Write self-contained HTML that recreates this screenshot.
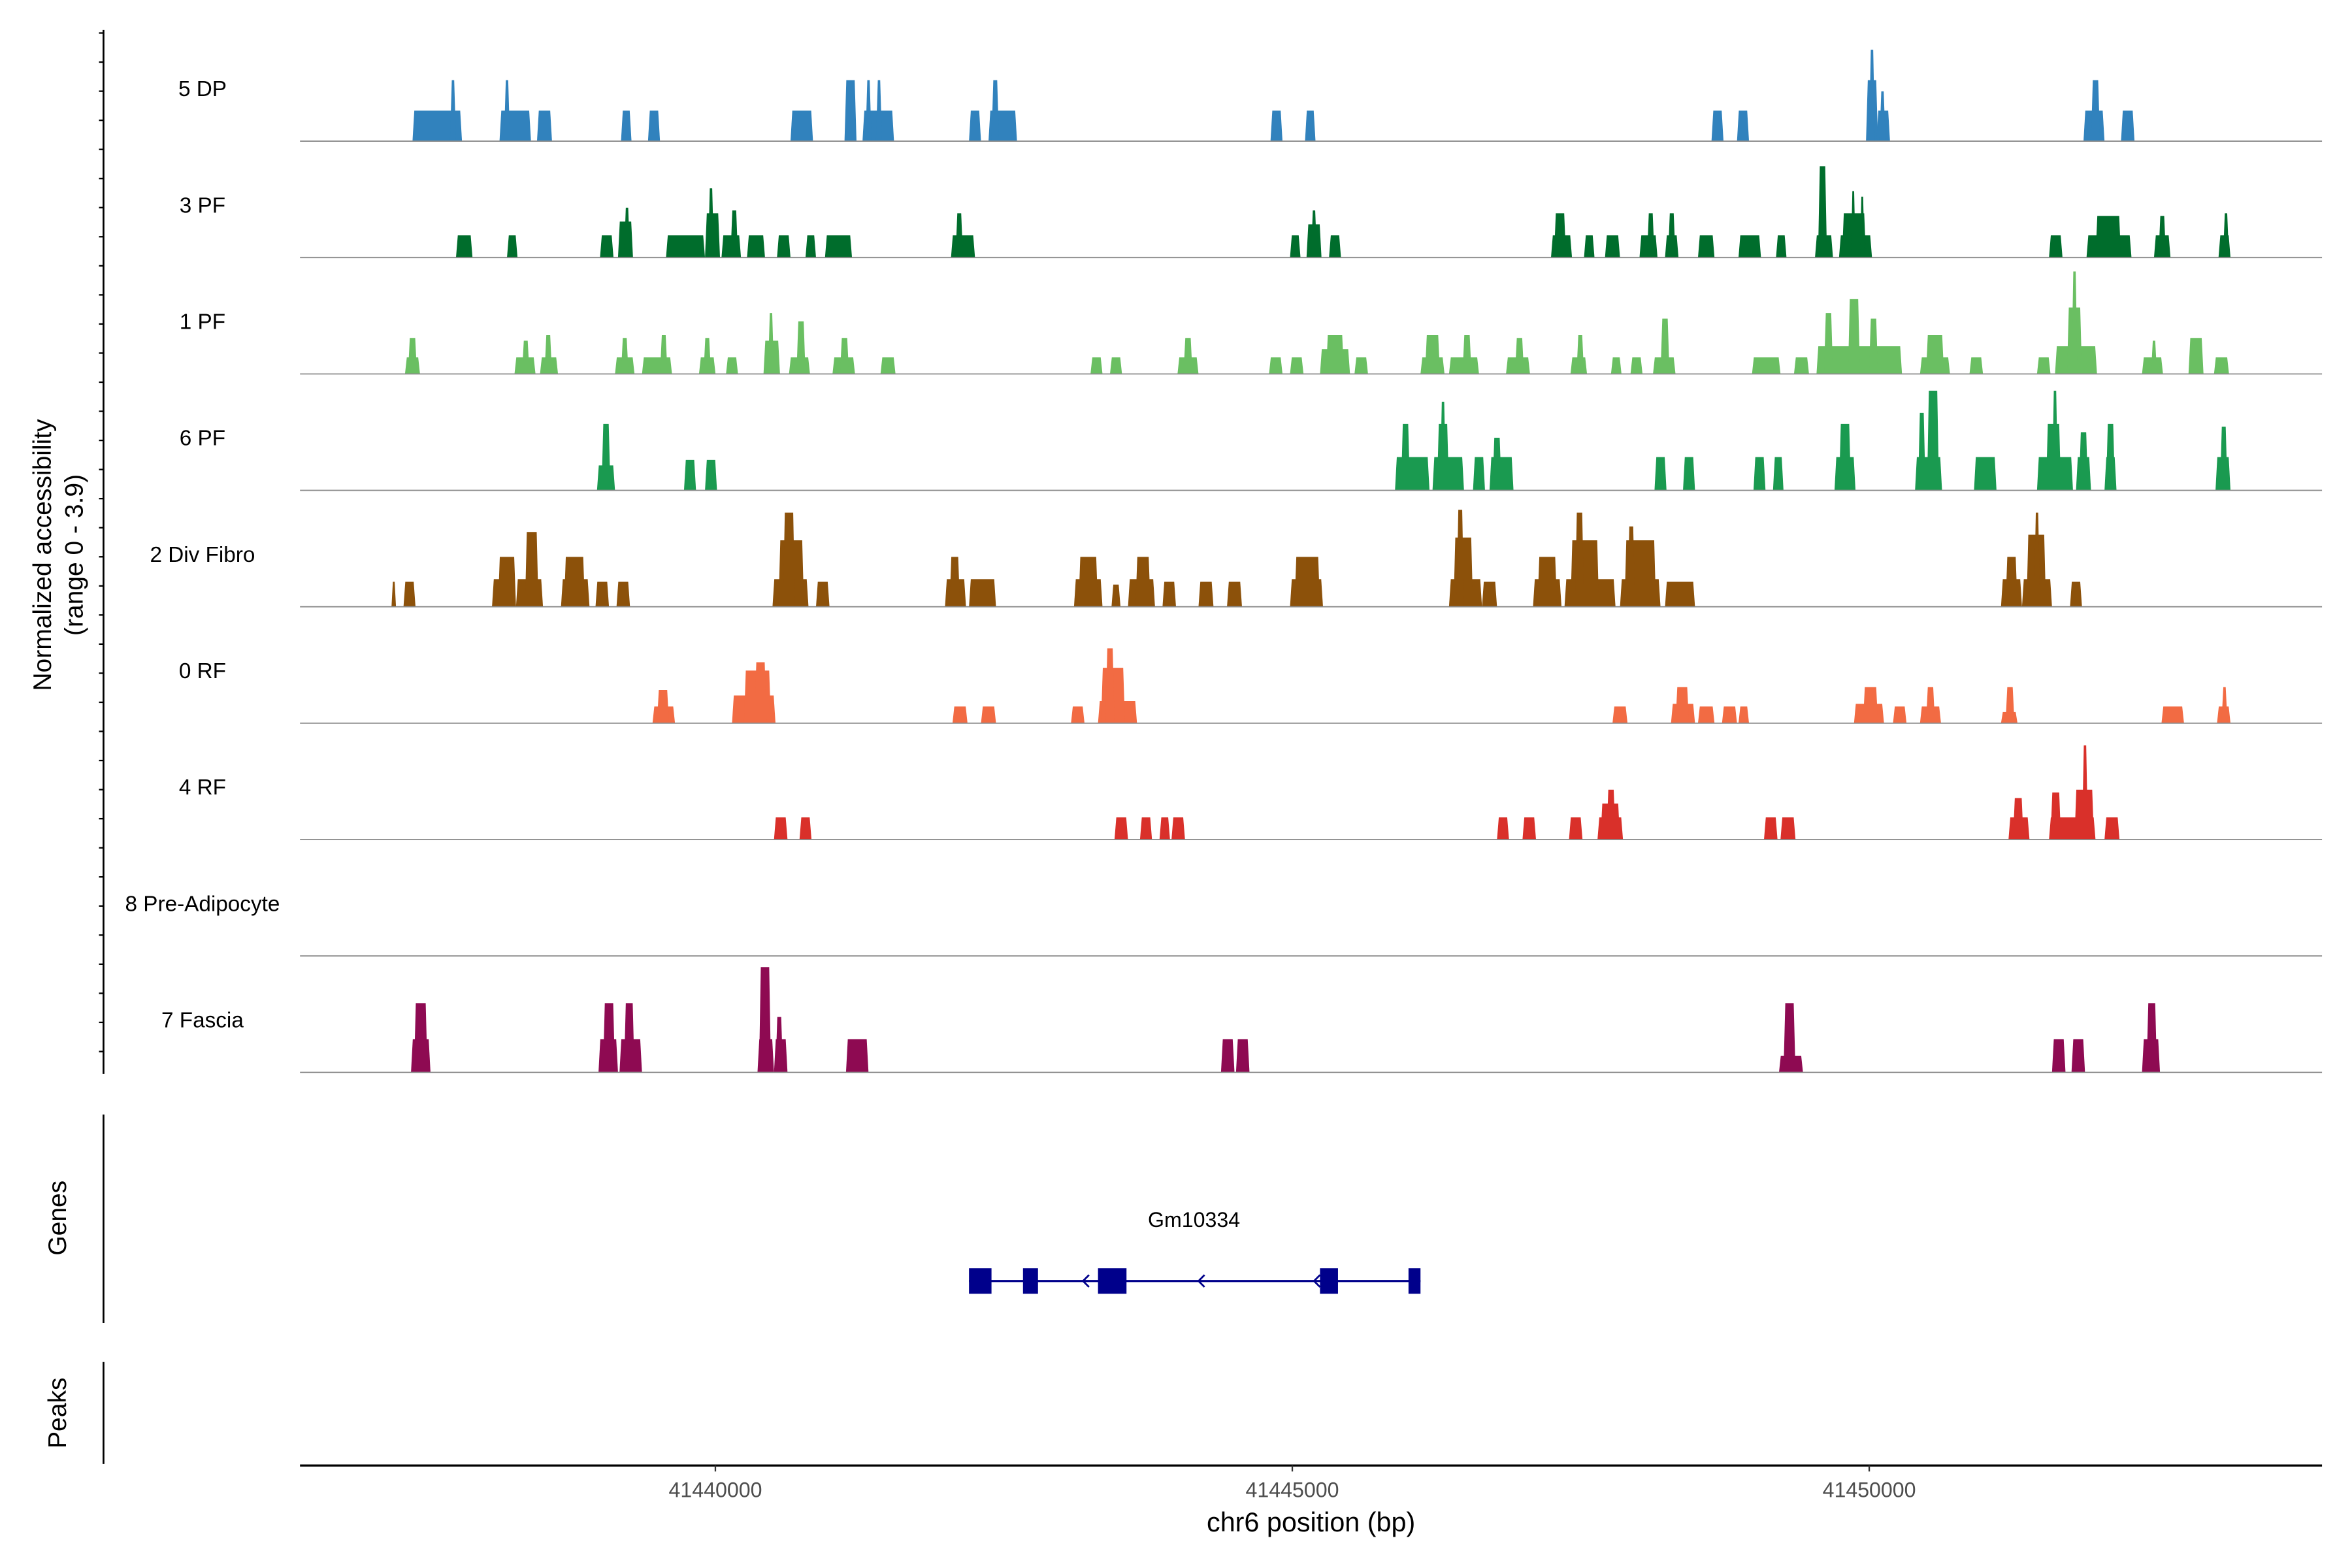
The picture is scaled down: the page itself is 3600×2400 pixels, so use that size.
<!DOCTYPE html>
<html><head><meta charset="utf-8"><style>
html,body{margin:0;padding:0;background:#fff;}
svg{display:block;font-family:"Liberation Sans",Arial,sans-serif;}
</style></head><body>
<svg id="chart" width="3600" height="2400" viewBox="0 0 1568 1045.33" xmlns="http://www.w3.org/2000/svg">
<g id="tracks"></g>
<g id="axes"></g>
</svg>
<script>
// region start (bp) and span
const regionStart = 41436400;
const regionEnd = 41453924;
const xTicks = [41440000, 41445000, 41450000];
const xTickLabels = ["41440000", "41445000", "41450000"];
const trackNames = ["5 DP","3 PF","1 PF","6 PF","2 Div Fibro","0 RF","4 RF","8 Pre-Adipocyte","7 Fascia"];
const trackColors = ["#3182bd","#006d2c","#6abf62","#1a9a50","#8c510a","#f26b43","#d9302a","#666666","#8e0a52"];
const yMax = 3.9;
// peaks: [startOffsetBp, endOffsetBp, accessibility]
const dp5 = [[975,1404,1.1],[1300,1352,2.2],[1729,2002,1.1],[1768,1820,2.2],[2054,2184,1.1],[2782,2873,1.1],[3016,3120,1.1],[4251,4446,1.1],[4719,4823,2.2],[4875,5148,1.1],[4901,4953,2.2],[4992,5044,2.2],[5798,5902,1.1],[5967,6214,1.1],[5993,6058,2.2],[8411,8515,1.1],[8710,8801,1.1],[12233,12337,1.1],[12454,12558,1.1],[13572,13676,2.2],[13598,13650,3.3],[13663,13780,1.1],[13689,13741,1.8],[15457,15639,1.1],[15522,15600,2.2],[15782,15899,1.1]];
const pf3 = [[1352,1495,0.8],[1794,1885,0.8],[2600,2717,0.8],[2756,2886,1.3],[2808,2860,1.8],[3172,3510,0.8],[3510,3640,1.6],[3536,3588,2.5],[3653,3822,0.8],[3731,3796,1.7],[3874,4030,0.8],[4134,4251,0.8],[4381,4472,0.8],[4550,4784,0.8],[5642,5850,0.8],[5681,5746,1.6],[8580,8671,0.8],[8723,8853,1.2],[8762,8814,1.7],[8918,9022,0.8],[10842,11024,0.8],[10868,10972,1.6],[11128,11219,0.8],[11310,11440,0.8],[11609,11765,0.8],[11674,11739,1.6],[11830,11947,0.8],[11856,11921,1.6],[12116,12259,0.8],[12467,12662,0.8],[12792,12883,0.8],[13130,13286,0.8],[13156,13234,3.3],[13338,13624,0.8],[13364,13572,1.6],[13442,13481,2.4],[13520,13559,2.2],[15158,15275,0.8],[15483,15873,0.8],[15561,15782,1.5],[16068,16211,0.8],[16107,16172,1.5],[16627,16731,0.8],[16666,16718,1.6]];
const pf1 = [[910,1040,0.6],[936,1014,1.3],[1859,2041,0.6],[1924,1989,1.2],[2080,2236,0.6],[2119,2184,1.4],[2730,2899,0.6],[2782,2847,1.3],[2964,3224,0.6],[3120,3185,1.4],[3458,3601,0.6],[3497,3562,1.3],[3692,3796,0.6],[4017,4160,1.2],[4056,4108,2.2],[4238,4420,0.6],[4303,4381,1.9],[4615,4810,0.6],[4680,4758,1.3],[5031,5161,0.6],[6851,6955,0.6],[7020,7124,0.6],[7605,7787,0.6],[7657,7735,1.3],[8398,8515,0.6],[8580,8697,0.6],[8840,9100,0.9],[8892,9048,1.4],[9139,9256,0.6],[9711,9919,0.6],[9750,9880,1.4],[9958,10218,0.6],[10075,10153,1.4],[10452,10660,0.6],[10530,10608,1.3],[11011,11154,0.6],[11063,11128,1.4],[11362,11453,0.6],[11531,11635,0.6],[11726,11921,0.6],[11791,11869,2.0],[12584,12831,0.6],[12948,13078,0.6],[13143,13884,1.0],[13208,13286,2.2],[13416,13520,2.7],[13598,13676,2.0],[14040,14300,0.6],[14092,14248,1.4],[14469,14586,0.6],[15054,15171,0.6],[15210,15574,1.0],[15314,15444,2.4],[15353,15405,3.7],[15964,16146,0.6],[16042,16094,1.2],[16367,16497,1.3],[16588,16718,0.6]];
const pf6 = [[2574,2730,0.9],[2613,2691,2.4],[3328,3432,1.1],[3510,3614,1.1],[9490,9789,1.2],[9542,9620,2.4],[9815,10088,1.2],[9854,9958,2.4],[9880,9932,3.2],[10166,10270,1.2],[10309,10517,1.2],[10335,10413,1.9],[11739,11843,1.2],[11986,12090,1.2],[12597,12701,1.2],[12766,12857,1.2],[13299,13481,1.2],[13338,13442,2.4],[13997,14231,1.2],[14023,14088,2.8],[14101,14205,3.6],[14508,14703,1.2],[15054,15366,1.2],[15132,15262,2.4],[15184,15236,3.6],[15392,15522,1.2],[15418,15496,2.1],[15639,15743,1.2],[15652,15730,2.4],[16601,16731,1.2],[16640,16705,2.3]];
const divFibro2 = [[793,832,0.9],[897,1001,0.9],[1664,1872,1.0],[1716,1872,1.8],[1872,2106,1.0],[1950,2067,2.7],[2262,2509,1.0],[2288,2470,1.8],[2561,2678,0.9],[2743,2860,0.9],[4095,4407,1.0],[4147,4368,2.4],[4186,4290,3.4],[4472,4589,0.9],[5590,5772,1.0],[5629,5720,1.8],[5798,6032,1.0],[6708,6955,1.0],[6747,6916,1.8],[7033,7111,0.8],[7176,7410,1.0],[7241,7371,1.8],[7475,7592,0.9],[7787,7917,0.9],[8034,8164,0.9],[8580,8866,1.0],[8619,8840,1.8],[9958,10244,1.0],[9997,10166,2.5],[10023,10088,3.5],[10244,10374,0.9],[10686,10933,1.0],[10725,10894,1.8],[10959,11401,1.0],[11011,11258,2.4],[11050,11128,3.4],[11440,11791,1.0],[11479,11752,2.4],[11505,11570,2.9],[11830,12090,0.9],[14742,14924,1.0],[14781,14885,1.8],[14924,15184,1.0],[14963,15132,2.6],[15028,15080,3.4],[15340,15444,0.9]];
const rf0 = [[3055,3250,0.6],[3094,3198,1.2],[3744,4121,1.0],[3848,4082,1.9],[3939,4043,2.2],[5655,5785,0.6],[5902,6032,0.6],[6682,6799,0.6],[6916,7254,0.8],[6942,7150,2.0],[6981,7059,2.7],[11375,11505,0.6],[11882,12090,0.7],[11921,12038,1.3],[12116,12259,0.6],[12324,12454,0.6],[12467,12558,0.6],[13468,13728,0.7],[13546,13676,1.3],[13806,13923,0.6],[14040,14222,0.6],[14092,14170,1.3],[14742,14885,0.4],[14781,14859,1.3],[16133,16328,0.6],[16614,16731,0.6],[16653,16705,1.3]];
const rf4 = [[4108,4225,0.8],[4329,4433,0.8],[7059,7176,0.8],[7280,7384,0.8],[7449,7540,0.8],[7553,7670,0.8],[10374,10478,0.8],[10595,10712,0.8],[10998,11115,0.8],[11245,11466,0.8],[11271,11440,1.3],[11323,11401,1.8],[12688,12805,0.8],[12831,12961,0.8],[14807,14989,0.8],[14846,14937,1.5],[15158,15561,0.8],[15171,15262,1.7],[15379,15548,1.8],[15444,15496,3.4],[15639,15769,0.8]];
const preAdipo8 = [];
const fascia7 = [[962,1131,1.2],[988,1105,2.5],[2587,2756,1.2],[2626,2730,2.5],[2769,2964,1.2],[2808,2899,2.5],[3965,4108,1.2],[3978,4082,3.8],[4108,4225,1.2],[4121,4186,2.0],[4732,4927,1.2],[7982,8099,1.2],[8112,8229,1.2],[12818,13026,0.6],[12857,12961,2.5],[15184,15301,1.2],[15353,15470,1.2],[15964,16120,1.2],[16003,16094,2.5]];
const trackPeaks = [dp5,pf3,pf1,pf6,divFibro2,rf0,rf4,preAdipo8,fascia7];
// gene model (offsets from region start, bp)
const geneName = "Gm10334";
const exonStarts = [5798,6266,6916,8840,9607];
const exonEnds = [5993,6396,7163,8996,9711];
const strandArrows = [6799,7800,8801];

const NS = "http://www.w3.org/2000/svg";
const X0 = 200, X1 = 1548;
function xs(off){ return X0 + off/(regionEnd-regionStart)*(X1-X0); }
function xbp(bp){ return xs(bp-regionStart); }
const trackTop = 16.5, trackH = 77.6, plotH = 72;
function ys(v){ return v/yMax*plotH; }
function mk(tag, attrs, parent){ const e=document.createElementNS(NS,tag); for(const k in attrs) e.setAttribute(k,attrs[k]); parent.appendChild(e); return e; }
const tracks = document.getElementById('tracks');
const axes = document.getElementById('axes');

trackNames.forEach((name,i)=>{
  const base = trackTop + trackH*(i+1);
  const g = mk('g',{},tracks);
  
  
  trackPeaks[i].forEach(p=>{
    const a = xs(p[0]), b = xs(p[1]), h = ys(p[2]);
    const w = b-a;
    const inset = Math.min(w*0.3, 1.2);
    const poly = mk('polygon',{points:`${a},${base} ${a+inset},${base-h} ${b-inset},${base-h} ${b},${base}`, fill:trackColors[i]},g);
    
    
  });
  const ln = mk('line',{x1:X0,x2:X1,y1:base,y2:base,stroke:'#8c8c8c','stroke-width':0.8},g);
  
  
  const t = mk('text',{x:135,y:base-30,'text-anchor':'middle','font-size':14.5,fill:'#000'},g);
  t.textContent = name;
  
  
});

// left coverage axis
const yl = mk('line',{x1:69,x2:69,y1:20,y2:716,stroke:'#000','stroke-width':1.2},axes);


for(let y=22; y<716; y+=19.4){
  const tk = mk('line',{x1:66,x2:69,y1:y,y2:y,stroke:'#000','stroke-width':1},axes);
  
  
}
const yt = mk('text',{transform:'translate(34,370) rotate(-90)','text-anchor':'middle','font-size':17},axes);
yt.textContent = 'Normalized accessibility';


const yt2 = mk('text',{transform:'translate(55,370) rotate(-90)','text-anchor':'middle','font-size':17},axes);
yt2.textContent = '(range 0 - 3.9)';



// genes panel
const gl = mk('line',{x1:69,x2:69,y1:743,y2:882,stroke:'#000','stroke-width':1.2},axes);


const gt = mk('text',{transform:'translate(44,812) rotate(-90)','text-anchor':'middle','font-size':17},axes);
gt.textContent = 'Genes';


const gene = mk('g',{},axes);


const gy = 854;
mk('line',{x1:xs(exonStarts[0]),x2:xs(exonEnds[exonEnds.length-1]),y1:gy,y2:gy,stroke:'#00008b','stroke-width':1.4},gene);
exonStarts.forEach((s,i)=>{
  const r = mk('rect',{x:xs(s),y:gy-8.5,width:xs(exonEnds[i])-xs(s),height:17,fill:'#00008b'},gene);
  
  
});
strandArrows.forEach(s=>{
  const x = xs(s);
  const ar = mk('polyline',{points:`${x+3},${gy-4} ${x-1},${gy} ${x+3},${gy+4}`,fill:'none',stroke:'#00008b','stroke-width':1.2},gene);
  
  
});
const gn = mk('text',{x:796,y:818,'text-anchor':'middle','font-size':14},gene);
gn.textContent = geneName;



// peaks panel
const pl = mk('line',{x1:69,x2:69,y1:908,y2:976,stroke:'#000','stroke-width':1.2},axes);


const pt = mk('text',{transform:'translate(44,942) rotate(-90)','text-anchor':'middle','font-size':17},axes);
pt.textContent = 'Peaks';



// x axis
const xl = mk('line',{x1:X0,x2:X1,y1:977,y2:977,stroke:'#000','stroke-width':1.4},axes);


xTicks.forEach((t,i)=>{
  const x = xbp(t);
  const tk = mk('line',{x1:x,x2:x,y1:977,y2:981,stroke:'#333','stroke-width':1},axes);
  
  
  const tl = mk('text',{x:x,y:998,'text-anchor':'middle','font-size':14,fill:'#4d4d4d'},axes);
  tl.textContent = xTickLabels[i];
  
  
});
const xt = mk('text',{x:874,y:1021,'text-anchor':'middle','font-size':18},axes);
xt.textContent = 'chr6 position (bp)';


</script>
</body></html>
